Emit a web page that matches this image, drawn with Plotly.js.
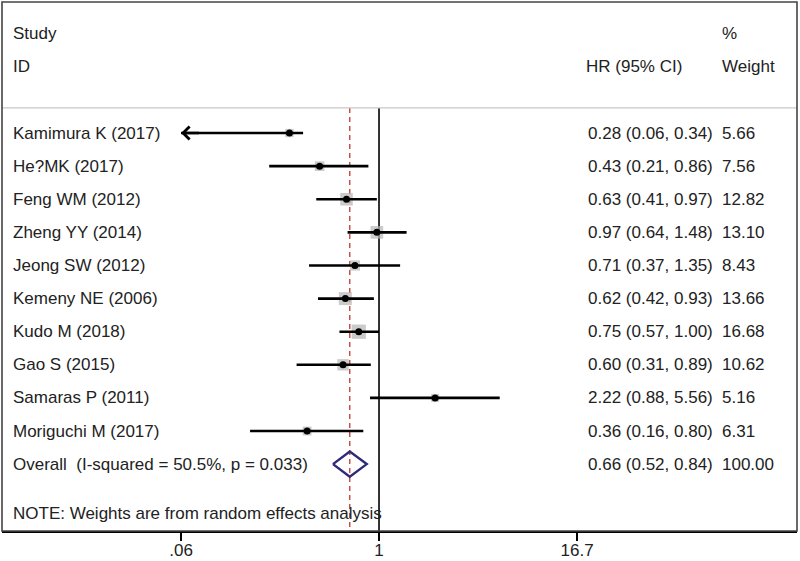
<!DOCTYPE html>
<html><head><meta charset="utf-8">
<script src="https://cdn.plot.ly/plotly-3.0.1.min.js"></script>
<style>html,body{margin:0;padding:0;background:#fff}#chart{width:800px;height:561px}</style>
</head><body><div id="chart"></div>
<script>
// ---- data ----
const studies = ["Kamimura K (2017)", "He?MK (2017)", "Feng WM (2012)", "Zheng YY (2014)", "Jeong SW (2012)", "Kemeny NE (2006)", "Kudo M (2018)", "Gao S (2015)", "Samaras P (2011)", "Moriguchi M (2017)"];
const hr      = [0.28, 0.43, 0.63, 0.97, 0.71, 0.62, 0.75, 0.60, 2.22, 0.36];
const ciLow   = [0.06, 0.21, 0.41, 0.64, 0.37, 0.42, 0.57, 0.31, 0.88, 0.16];
const ciHigh  = [0.34, 0.86, 0.97, 1.48, 1.35, 0.93, 1.00, 0.89, 5.56, 0.80];
const weights = [5.66, 7.56, 12.82, 13.10, 8.43, 13.66, 16.68, 10.62, 5.16, 6.31];
const overallLabel = "Overall\u00a0 (I-squared = 50.5%, p = 0.033)";
const overallHR = 0.66, overallLow = 0.52, overallHigh = 0.84, overallWeight = 100.00;
const nullValue = 1;
const tickVals = [0.06, 1, 16.7];
const tickText = [".06", "1", "16.7"];
const noteText = "NOTE: Weights are from random effects analysis";

// ---- layout helpers ----
const FONT = "Liberation Sans, Arial, sans-serif";
const FS = 17;
const TXT = "#222";
const rows = studies.map((_, i) => i);
const overallRow = studies.length;
const noteRow = overallRow + 1.48;
const sepRow = -0.76;
const yTop = -3.958, yBottom = 12.02;
const xMin = tickVals[0];

const fmt = v => v.toFixed(2);

// CI lines
const ciX = [], ciY = [];
rows.forEach(i => { ciX.push(Math.max(ciLow[i], xMin), ciHigh[i], null); ciY.push(i, i, null); });

const traces = [
  {x: [nullValue, nullValue], y: [sepRow, yBottom], mode: 'lines', line: {color: '#000', width: 1.6}, hoverinfo: 'skip'},
  {x: [overallHR, overallHR], y: [sepRow, yBottom], mode: 'lines', line: {color: '#c0392b', width: 1.3, dash: '5px,4px'}, hoverinfo: 'skip'},
  {x: hr, y: rows, mode: 'markers', marker: {symbol: 'square', color: '#b5b5b5', size: weights.map(w => 3.5 * Math.sqrt(w)), line: {width: 0}}, hoverinfo: 'skip'},
  {x: ciX, y: ciY, mode: 'lines', line: {color: '#000', width: 2.6}, hoverinfo: 'skip', connectgaps: false},
  {x: hr, y: rows, mode: 'markers', marker: {symbol: 'circle', color: '#000', size: 7}, hoverinfo: 'skip'},
  {x: [overallLow, overallHR, overallHigh, overallHR, overallLow],
   y: [overallRow, overallRow - 0.38, overallRow, overallRow + 0.38, overallRow],
   mode: 'lines', line: {color: '#2e2a78', width: 2.4}, hoverinfo: 'skip'}
];

const ann = [];
const addText = (x, y, text) => ann.push({xref: 'paper', yref: 'y', x: x, y: y, text: text, showarrow: false,
  xanchor: 'left', yanchor: 'middle', font: {family: FONT, size: FS, color: TXT}});
const xText = 0.0115, xHR = 0.7345, xW = 0.9030;
addText(xText, -3, "Study");
addText(xText, -2, "ID");
addText(0.7320, -2, "HR (95% CI)");
addText(xW, -3, "%");
addText(xW, -2, "Weight");
rows.forEach(i => {
  addText(xText, i, studies[i]);
  addText(xHR, i, `${fmt(hr[i])} (${fmt(ciLow[i])}, ${fmt(ciHigh[i])})`);
  addText(xW, i, fmt(weights[i]));
});
addText(xText, overallRow, overallLabel);
addText(xHR, overallRow, `${fmt(overallHR)} (${fmt(overallLow)}, ${fmt(overallHigh)})`);
addText(xW, overallRow, fmt(overallWeight));
addText(xText, noteRow, noteText);

// arrows for truncated CIs
rows.forEach(i => {
  if (ciLow[i] <= xMin) {
    ann.push({xref: 'x', yref: 'y', axref: 'x', ayref: 'y', x: Math.log10(xMin), y: i,
      ax: Math.log10(xMin) + 0.12, ay: i, text: '', showarrow: true, arrowhead: 4,
      arrowsize: 1.05, arrowwidth: 2.4, arrowcolor: '#000', standoff: 0, startstandoff: 0});
  }
});

const layout = {
  width: 800, height: 561,
  margin: {l: 2, r: 3, t: 2, b: 30},
  paper_bgcolor: '#fff', plot_bgcolor: '#fff',
  showlegend: false,
  xaxis: {type: 'log', range: [-2.327, 2.580], showgrid: false, zeroline: false,
    showline: true, linecolor: '#000', linewidth: 2,
    ticks: 'outside', ticklen: 8, tickwidth: 1.5, tickcolor: '#000',
    ticklabelstandoff: -5,
    tickvals: tickVals, ticktext: tickText,
    tickfont: {family: FONT, size: FS, color: TXT}, fixedrange: true},
  yaxis: {range: [yBottom, yTop], visible: false, showgrid: false, zeroline: false, fixedrange: true},
  shapes: [
    {type: 'line', xref: 'paper', yref: 'y', x0: 0, x1: 1, y0: sepRow, y1: sepRow, line: {color: '#c8c8c8', width: 1.2}},
    {type: 'rect', xref: 'paper', yref: 'paper', x0: 0, x1: 1, y0: 0, y1: 1, line: {color: '#444', width: 1.6}}
  ],
  annotations: ann
};

Plotly.newPlot('chart', traces, layout, {staticPlot: true, displayModeBar: false});
</script>
</body></html>
